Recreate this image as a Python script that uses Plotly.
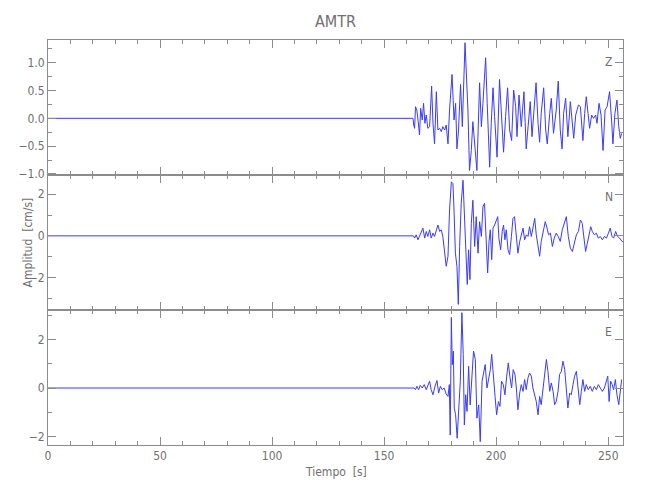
import plotly.graph_objects as go
from plotly.subplots import make_subplots

# ---- data ----
t_z = [0, 162.9, 163.2, 163.6, 164.0, 164.6, 165.2, 165.8, 166.3, 167.0, 167.6, 168.2, 168.8, 169.5, 170.3,
       171.2, 171.8, 172.5, 173.3, 174.0, 174.8, 175.5, 176.2, 177.0, 177.7, 178.5, 179.2, 180.3, 181.2,
       181.9, 182.5, 183.2, 184.1, 184.9, 186.1, 186.7, 187.4, 188.1, 188.9, 189.6, 190.4, 191.4, 192.6,
       193.4, 194.1, 195.3, 196.0, 197.1, 197.8, 198.6, 199.3, 200.4, 201.5, 202.4, 203.3, 204.2, 205.1,
       206.0, 206.9, 207.8, 208.7, 209.3, 210.2, 211.2, 212.4, 213.4, 214.3, 215.2, 216.0, 216.9, 217.8,
       218.7, 219.4, 220.1, 221.2, 222.1, 222.8, 223.9, 224.6, 225.6, 226.8, 227.7, 228.6, 229.4, 230.1,
       231.0, 232.0, 233.1, 234.0, 234.6, 235.5, 236.7, 237.6, 238.7, 239.5, 240.2, 241.0, 241.7, 242.6,
       243.5, 244.4, 245.0, 245.9, 246.8, 247.7, 248.6, 249.5, 250.6, 251.5, 252.1, 253.0, 253.9, 254.7,
       255.4, 256.0]
z_vals = [0, 0, -0.12, -0.18, 0.21, 0.15, -0.06, -0.30, 0.18, -0.03, 0.27, -0.09, 0.06, -0.18, -0.15,
          0.58, -0.09, -0.46, 0.48, -0.21, -0.18, -0.24, -0.15, -0.21, -0.12, -0.46, 0.15, 0.79, -0.03,
          0.27, -0.55, -0.21, 0.61, -0.15, 1.36, 0.82, 0.15, -0.94, -0.58, -0.06, -0.40, -0.94, 0.64,
          -0.15, 0.27, 1.09, 0.27, -0.88, -0.09, 0.55, 0.03, -0.70, 0.70, 0.09, -0.61, 0.03, 0.55,
          -0.21, -0.40, 0.51, 0.21, -0.33, 0.42, -0.15, 0.48, -0.55, -0.03, 0.30, -0.33, 0.09, 0.64,
          -0.09, -0.43, 0.09, 0.55, -0.21, -0.46, 0.09, 0.36, -0.27, 0.15, 0.67, -0.21, -0.55, 0.09,
          0.36, -0.33, 0.30, -0.21, -0.36, 0.06, 0.24, 0.21, -0.40, 0.09, 0.39, 0.09, -0.18, 0.06,
          0.00, 0.06, -0.09, 0.27, 0.06, -0.58, 0.15, 0.21, 0.48, -0.03, -0.46, 0.09, 0.33, -0.15,
          -0.36, -0.27]

t_n = [0, 163.1, 163.6, 164.3, 165.1, 165.8, 166.6, 167.3, 168.1, 168.8, 169.5, 170.3, 171.0, 171.8,
       172.5, 173.3, 174.0, 174.8, 175.5, 176.2, 177.0, 177.7, 178.5, 179.2, 180.0, 180.7, 181.2, 181.8,
       182.5, 183.1, 183.7, 184.4, 185.2, 185.8, 186.4, 187.1, 187.7, 188.3, 188.9, 189.6, 190.4, 191.1,
       191.9, 192.6, 193.4, 194.1, 194.8, 195.6, 196.2, 196.8, 197.4, 198.0, 198.6, 199.3, 200.1, 200.7,
       201.2, 202.0, 202.7, 203.3, 203.9, 204.5, 205.3, 206.0, 206.8, 207.5, 208.2, 209.0, 209.7, 210.5,
       211.2, 212.0, 212.7, 213.5, 214.2, 214.9, 215.7, 216.4, 217.2, 217.9, 218.7, 219.4, 220.1, 220.9,
       221.9, 222.7, 223.4, 224.2, 225.1, 225.9, 226.8, 227.7, 228.6, 229.5, 230.4, 231.3, 232.2, 233.1,
       234.0, 234.9, 235.8, 236.7, 237.6, 238.4, 239.2, 239.9, 240.7, 241.4, 242.2, 242.9, 243.8, 244.7,
       245.6, 246.5, 247.4, 248.3, 249.2, 250.1, 250.9, 251.7, 252.4, 253.3, 254.2, 255.1, 256.2, 256.9]
n_vals = [0, 0, -0.11, 0.05, -0.19, -0.03, 0.13, 0.37, -0.11, 0.21, -0.03, 0.29, -0.11, 0.13,
          -0.03, 0.21, 0.52, 0.21, 0.29, -0.03, -0.75, -1.46, -0.98, 1.24, 2.59, 2.51, 1.24, -0.83,
          -1.46, -3.29, -0.51, 1.56, 2.67, 0.76, -0.90, -2.33, -0.67, -2.10, 0.60, 1.71, -0.51, 0.92,
          -0.83, 0.68, -0.03, 1.40, 1.56, -0.83, -1.78, -0.27, 0.29, -1.14, 0.37, 0.52, 0.76, 0.92,
          -0.11, -0.67, 0.21, 0.52, -0.19, 0.29, -0.67, -0.90, -0.03, 0.84, 0.92, -0.03, -0.83, -0.27,
          0.05, 0.37, -0.19, 0.05, -0.03, 0.44, -0.03, 0.37, 0.84, 0.05, -0.51, -0.98, -0.27, 0.13,
          0.68, 0.37, 0.05, 0.13, -0.51, -0.11, 0.13, -0.03, -0.27, 0.29, 0.60, 0.92, -0.03, -0.59,
          -0.75, -0.27, 0.05, 0.21, 0.76, 0.60, -0.03, -0.75, -0.35, -0.03, 0.44, 0.21, 0.05, 0.13,
          -0.11, -0.03, -0.19, -0.03, -0.11, 0.13, 0.37, -0.03, -0.11, 0.21, -0.03, -0.11, -0.27, -0.30]

t_e = [0, 163.4, 164.0, 164.6, 165.4, 166.1, 167.0, 167.9, 168.8, 169.5, 170.3, 171.0, 171.8, 172.7,
       173.6, 174.3, 175.1, 175.9, 176.8, 177.7, 178.5, 179.1, 179.5, 180.0, 180.4, 180.9, 181.3, 181.9,
       182.6, 183.4, 184.0, 184.7, 185.3, 185.8, 186.4, 187.0, 187.7, 188.4, 189.2, 189.9, 190.7, 191.4,
       192.2, 192.9, 193.7, 194.4, 195.1, 195.9, 196.6, 197.4, 198.0, 198.7, 199.5, 200.2, 201.0, 201.7,
       202.4, 203.2, 203.9, 204.7, 205.4, 206.2, 206.9, 207.6, 208.4, 209.0, 209.7, 210.5, 211.2, 212.0,
       212.7, 213.4, 214.2, 214.9, 215.7, 216.4, 217.2, 217.9, 218.7, 219.4, 220.1, 220.9, 221.6, 222.4,
       223.1, 223.9, 224.6, 225.4, 226.1, 226.8, 227.6, 228.3, 229.1, 229.8, 230.6, 231.3, 232.0, 232.8,
       233.5, 234.3, 235.0, 235.8, 236.5, 237.3, 238.0, 238.7, 239.5, 240.2, 241.1, 242.0, 242.9, 243.8,
       244.7, 245.6, 246.5, 247.4, 248.3, 249.2, 249.8, 250.4, 251.1, 251.8, 252.4, 253.2, 253.9, 254.7,
       255.4, 256.0]
e_vals = [0, 0, -0.07, 0.07, -0.07, 0.11, 0.0, 0.14, -0.07, 0.14, 0.28, -0.07, -0.28, 0.07,
          0.31, -0.21, 0.07, -0.07, 0.0, -0.25, -0.35, 0.14, -1.95, 2.92, 0.97, 1.53, -0.83, -1.11,
          -2.08, -0.70, 0.28, 3.12, 1.39, -1.53, -0.28, -0.97, 0.90, -0.70, 0.83, 1.53, 1.18, -1.25,
          -0.70, -2.22, 0.28, 0.69, 0.97, 0.0, 0.35, 0.76, 1.39, 0.42, -0.35, -1.11, -0.56, -0.76,
          0.28, 0.14, -0.28, 0.49, 1.04, 0.42, 0.0, 0.76, 0.56, 0.0, -0.90, -0.21, 0.14, -0.14,
          0.35, -0.07, 0.42, 0.62, 0.49, 0.0, -0.35, -0.56, -1.11, -0.35, -0.69, 0.07, 0.42, 1.18,
          0.69, -0.14, 0.21, -0.14, -0.69, -0.56, -0.14, 0.56, 0.69, 1.11, 0.76, -0.14, -0.83, -0.21,
          -0.28, 0.14, 0.49, 0.69, 0.0, -0.69, -0.14, 0.35, -0.14, 0.14, -0.07, 0.07, -0.14, 0.07,
          -0.07, 0.14, 0.0, -0.14, 0.0, 0.28, 0.49, -0.56, 0.28, 0.14, -0.07, 0.35, -0.28, -0.69,
          -0.07, 0.35]

components = ["Z", "N", "E"]
x_ticks = [0, 50, 100, 150, 200, 250]
y_ticks_z = [-1.0, -0.5, 0.0, 0.5, 1.0]
y_ticks_ne = [-2, 0, 2]

# ---- figure ----
AX = "#8c8c8c"
TXT = "#707070"
FONT = "DejaVu Sans Condensed, Liberation Sans Narrow, sans-serif"
LINE = "#3a3aff"

fig = make_subplots(rows=3, cols=1, shared_xaxes=True, vertical_spacing=0)
for i, (t, v) in enumerate([(t_z, z_vals), (t_n, n_vals), (t_e, e_vals)]):
    fig.add_trace(go.Scatter(x=t, y=v, mode="lines", line=dict(color=LINE, width=1),
                             showlegend=False, hoverinfo="skip"), row=i + 1, col=1)

xcommon = dict(range=[0, 256.6], showline=True, linecolor=AX, linewidth=1, mirror="allticks",
               ticks="inside", ticklen=8, tickcolor=AX, tickvals=x_ticks, showgrid=False,
               zeroline=False, minor=dict(ticks="inside", ticklen=4, dtick=10, tickcolor=AX, showgrid=False),
               tickfont=dict(family=FONT, size=12, color=TXT))
for r in (1, 2, 3):
    fig.update_xaxes(row=r, col=1, **xcommon)
fig.update_xaxes(row=3, col=1, showticklabels=True, ticktext=[str(v) for v in x_ticks])

ycommon = dict(showline=True, linecolor=AX, linewidth=1, mirror="allticks", ticks="inside",
               ticklen=8, tickcolor=AX, showgrid=False, zeroline=False,
               tickfont=dict(family=FONT, size=12, color=TXT))
fig.update_yaxes(row=1, col=1, range=[-1.02, 1.41], tickvals=y_ticks_z,
                 ticktext=["%.1f" % v if v >= 0 else "\u2212%.1f" % abs(v) for v in y_ticks_z],
                 minor=dict(ticks="inside", ticklen=4, dtick=0.25, tick0=0, tickcolor=AX), **ycommon)
fig.update_yaxes(row=2, col=1, range=[-3.56, 2.92], tickvals=y_ticks_ne,
                 ticktext=["\u22122", "0", "2"],
                 minor=dict(ticks="inside", ticklen=4, dtick=1, tick0=0, tickcolor=AX), **ycommon)
fig.update_yaxes(row=3, col=1, range=[-2.36, 3.23], tickvals=y_ticks_ne,
                 ticktext=["\u22122", "0", "2"],
                 minor=dict(ticks="inside", ticklen=4, dtick=1, tick0=0, tickcolor=AX), **ycommon)

annots = []
for i, c in enumerate(components):
    annots.append(dict(text=c, xref="x domain", yref="y domain" if i == 0 else "y%d domain" % (i + 1),
                       x=0.975, y=0.84, xanchor="center", yanchor="middle", showarrow=False,
                       font=dict(family=FONT, size=12, color=TXT)))
annots.append(dict(text="Amplitud  [cm/s]", xref="paper", yref="paper", x=-0.035, y=0.5,
                   textangle=-90, showarrow=False, xanchor="center", yanchor="middle",
                   font=dict(family=FONT, size=12, color=TXT)))
annots.append(dict(text="Tiempo  [s]", xref="paper", yref="paper", x=0.5, y=-0.066,
                   showarrow=False, xanchor="center", yanchor="middle",
                   font=dict(family=FONT, size=12, color=TXT)))
annots.append(dict(text="AMTR", xref="paper", yref="paper", x=0.5, y=1.046,
                   showarrow=False, xanchor="center", yanchor="middle",
                   font=dict(family=FONT, size=16, color=TXT)))

# the page body adds an 8px margin, so the figure is sized/offset to compensate
fig.update_layout(width=642, height=492,
                  margin=dict(l=40, r=27, t=32, b=55, autoexpand=False),
                  paper_bgcolor="white", plot_bgcolor="white", annotations=annots)

fig.write_html("out.html")
